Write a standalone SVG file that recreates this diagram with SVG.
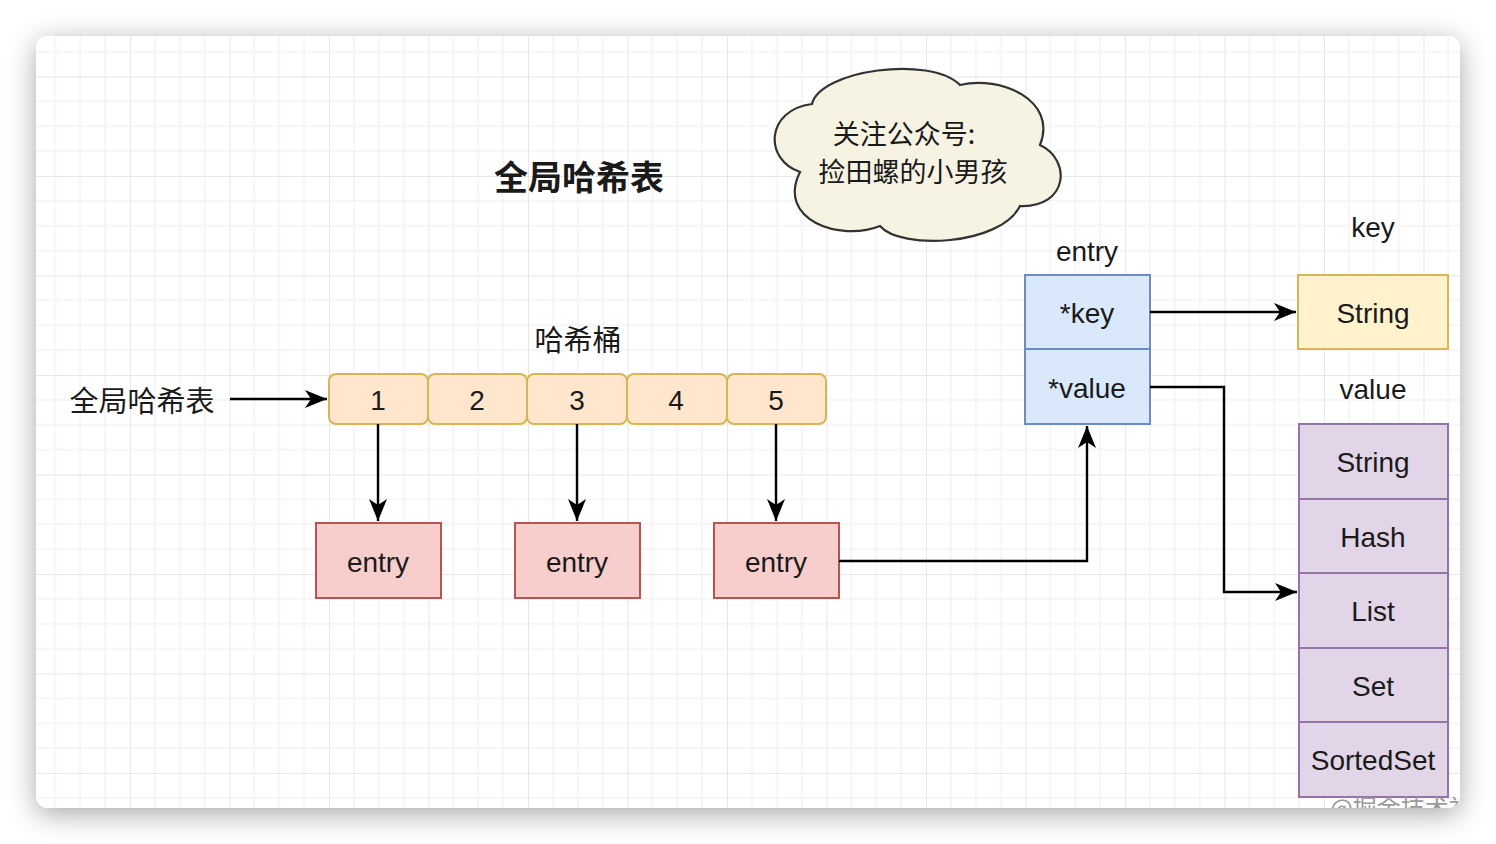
<svg xmlns="http://www.w3.org/2000/svg" width="1496" height="844" viewBox="0 0 1496 844">
  <defs>
    <style>
      .lat { font-family: "Liberation Sans", Arial, sans-serif; fill: #1a1a1a; }
      .cjk { font-family: "Noto Sans CJK SC", "Noto Sans", sans-serif; fill: #1a1a1a; }
      .conn { fill: none; stroke: #000; stroke-width: 2.4; }
      .bucket { fill: #ffe6cc; stroke: #d6b656; stroke-width: 2; }
      .entry { fill: #f8cecc; stroke: #b85450; stroke-width: 2; }
      .blue { fill: #dae8fc; stroke: #6c8ebf; stroke-width: 2; }
      .yellow { fill: #fff2cc; stroke: #d6b656; stroke-width: 2; }
      .purple { fill: #e1d5e7; stroke: #9673a6; stroke-width: 2; }
      text { dominant-baseline: central; text-anchor: middle; }
    </style>
    <filter id="shadow" x="-10%" y="-10%" width="120%" height="125%">
      <feDropShadow dx="0" dy="6" stdDeviation="14" flood-color="#000" flood-opacity="0.35"/>
    </filter>
    <pattern id="grid" patternUnits="userSpaceOnUse" x="30.5" y="76.5" width="99.5" height="99.5">
      <path d="M24.875 0V99.5M49.75 0V99.5M74.625 0V99.5M0 24.875H99.5M0 49.75H99.5M0 74.625H99.5" stroke="#eeeeee" stroke-width="1"/>
      <path d="M0 0V99.5M0 0H99.5" stroke="#e0e0e0" stroke-width="1.5"/>
    </pattern>
    <clipPath id="cardClip">
      <rect x="36" y="36" width="1424" height="772" rx="12"/>
    </clipPath>
    <marker id="arrow" markerUnits="userSpaceOnUse" markerWidth="24" markerHeight="20" refX="22" refY="10" orient="auto">
      <path d="M0,1 L22,10 L0,19 L6,10 z" fill="#000"/>
    </marker>
  </defs>

  <rect x="0" y="0" width="1496" height="844" fill="#ffffff"/>
  <rect x="36" y="36" width="1424" height="772" rx="12" fill="#ffffff" filter="url(#shadow)"/>

  <g clip-path="url(#cardClip)">
    <rect x="36" y="36" width="1424" height="772" fill="url(#grid)"/>

    <g id="title">
      <text class="cjk" x="579" y="175" font-size="34" font-weight="bold">全局哈希表</text>
    </g>

    <g id="cloud">
      <path d="M800,172 C764,160 765,110 812,104 C820,70 930,55 960,85 C1000,75 1058,100 1040,145 C1072,160 1068,208 1020,206 C1000,246 900,250 880,226 C840,242 776,220 800,172 Z" fill="#f7f3e3" stroke="#333" stroke-width="2.2"/>
      <text class="cjk" x="904" y="132" font-size="27">关注公众号:</text>
      <text class="cjk" x="913" y="170" font-size="27">捡田螺的小男孩</text>
    </g>

    <g id="label-bucket">
      <text class="cjk" x="578" y="338" font-size="29">哈希桶</text>
    </g>
    <g id="label-table">
      <text class="cjk" x="142" y="399" font-size="29">全局哈希表</text>
    </g>

    <g id="bucket1"><rect class="bucket" x="329" y="374" width="99" height="50" rx="7"/><text class="lat" x="378" y="400" font-size="28">1</text></g>
    <g id="bucket2"><rect class="bucket" x="428" y="374" width="99" height="50" rx="7"/><text class="lat" x="477" y="400" font-size="28">2</text></g>
    <g id="bucket3"><rect class="bucket" x="527" y="374" width="100" height="50" rx="7"/><text class="lat" x="577" y="400" font-size="28">3</text></g>
    <g id="bucket4"><rect class="bucket" x="627" y="374" width="100" height="50" rx="7"/><text class="lat" x="676" y="400" font-size="28">4</text></g>
    <g id="bucket5"><rect class="bucket" x="727" y="374" width="99" height="50" rx="7"/><text class="lat" x="776" y="400" font-size="28">5</text></g>

    <g id="entry1"><rect class="entry" x="316" y="523" width="125" height="75"/><text class="lat" x="378" y="562" font-size="28">entry</text></g>
    <g id="entry2"><rect class="entry" x="515" y="523" width="125" height="75"/><text class="lat" x="577" y="562" font-size="28">entry</text></g>
    <g id="entry3"><rect class="entry" x="714" y="523" width="125" height="75"/><text class="lat" x="776" y="562" font-size="28">entry</text></g>

    <g id="entry-struct">
      <text class="lat" x="1087" y="251" font-size="28">entry</text>
      <rect class="blue" x="1025" y="275" width="125" height="74"/>
      <text class="lat" x="1087" y="313" font-size="28">*key</text>
      <rect class="blue" x="1025" y="349" width="125" height="75"/>
      <text class="lat" x="1087" y="388" font-size="28">*value</text>
    </g>

    <g id="key-type">
      <text class="lat" x="1373" y="227" font-size="28">key</text>
      <rect class="yellow" x="1298" y="275" width="150" height="74"/>
      <text class="lat" x="1373" y="313" font-size="28">String</text>
    </g>

    <g id="value-types">
      <text class="lat" x="1373" y="389" font-size="28">value</text>
      <rect class="purple" x="1299" y="424" width="149" height="75"/>
      <text class="lat" x="1373" y="462" font-size="28">String</text>
      <rect class="purple" x="1299" y="499" width="149" height="74"/>
      <text class="lat" x="1373" y="537" font-size="28">Hash</text>
      <rect class="purple" x="1299" y="573" width="149" height="75"/>
      <text class="lat" x="1373" y="611" font-size="28">List</text>
      <rect class="purple" x="1299" y="648" width="149" height="74"/>
      <text class="lat" x="1373" y="686" font-size="28">Set</text>
      <rect class="purple" x="1299" y="722" width="149" height="75"/>
      <text class="lat" x="1373" y="760" font-size="28">SortedSet</text>
    </g>

    <g id="connectors">
      <path class="conn" d="M230,399 H327" marker-end="url(#arrow)"/>
      <path class="conn" d="M378,424 V521" marker-end="url(#arrow)"/>
      <path class="conn" d="M577,424 V521" marker-end="url(#arrow)"/>
      <path class="conn" d="M776,424 V521" marker-end="url(#arrow)"/>
      <path class="conn" d="M839,561 H1087 V426" marker-end="url(#arrow)"/>
      <path class="conn" d="M1150,312 H1296" marker-end="url(#arrow)"/>
      <path class="conn" d="M1150,387 H1224 V592 H1297" marker-end="url(#arrow)"/>
    </g>

    <g id="watermark">
      <text class="cjk" x="1330" y="806" font-size="24" style="fill:#9a9a9a;text-anchor:start">@掘金技术社区</text>
    </g>
  </g>
</svg>
